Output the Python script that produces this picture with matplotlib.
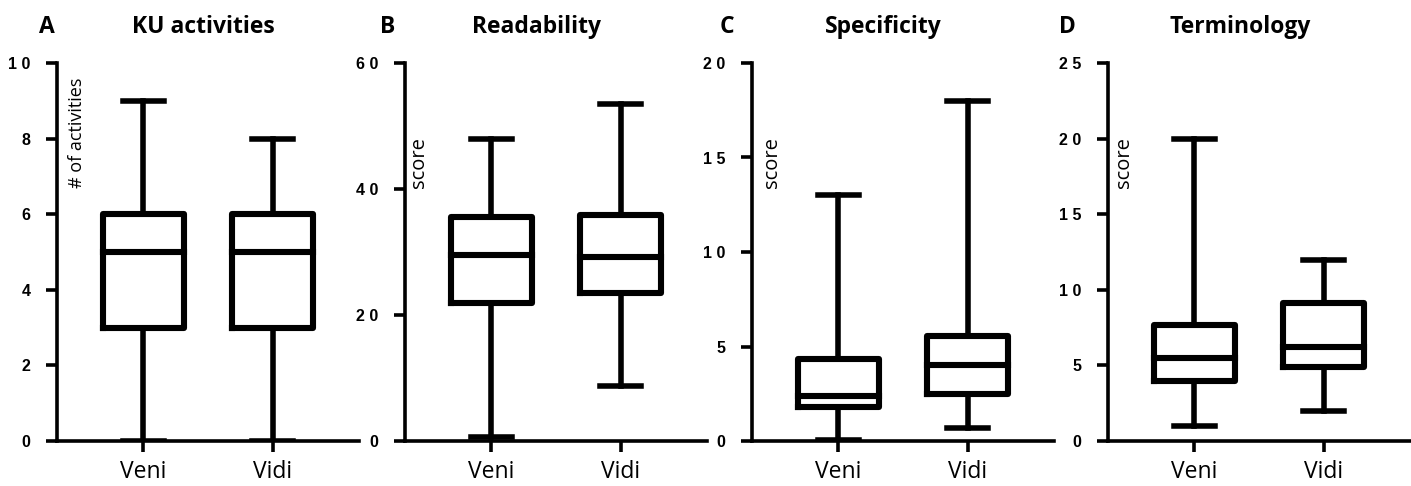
import matplotlib.pyplot as plt

# data (box plot summaries: whisker low, q1, median, q3, whisker high)
groups = ["Veni", "Vidi"]
panel_letters = ["A", "B", "C", "D"]
panel_titles = ["KU activities", "Readability", "Specificity", "Terminology"]
ylabels = ["# of activities", "score", "score", "score"]

ku_low = [0, 0]
ku_q1 = [3, 3]
ku_med = [5, 5]
ku_q3 = [6, 6]
ku_high = [9, 8]

read_low = [0.7, 8.7]
read_q1 = [21.9, 23.5]
read_med = [29.5, 29.2]
read_q3 = [35.5, 35.9]
read_high = [48, 53.5]

spec_low = [0.05, 0.7]
spec_q1 = [1.8, 2.5]
spec_med = [2.4, 4.0]
spec_q3 = [4.35, 5.55]
spec_high = [13, 18]

term_low = [1, 2]
term_q1 = [4.0, 4.9]
term_med = [5.5, 6.25]
term_q3 = [7.7, 9.1]
term_high = [20, 12]

yticks = [
    [0, 2, 4, 6, 8, 10],
    [0, 20, 40, 60],
    [0, 5, 10, 15, 20],
    [0, 5, 10, 15, 20, 25],
]
ymax = [10, 60, 20, 25]

summaries = [
    (ku_low, ku_q1, ku_med, ku_q3, ku_high),
    (read_low, read_q1, read_med, read_q3, read_high),
    (spec_low, spec_q1, spec_med, spec_q3, spec_high),
    (term_low, term_q1, term_med, term_q3, term_high),
]

W, H = 1411, 486
fig = plt.figure(figsize=(W / 100, H / 100), dpi=100)

lefts = [57, 405, 752, 1108]
ax_w, ax_top, ax_bot = 302, 63, 441
title_x = [203, 537, 883, 1240]
letter_x = [47, 388, 727, 1067]
ylab_dx = [20, 14, 20, 16]
ylab_size = [13.0, 14.5, 14.5, 14.5]

tick_font = dict(family="Liberation Sans", weight="bold", size=11.5)

for i, (lo, q1, med, q3, hi) in enumerate(summaries):
    ax = fig.add_axes(
        [lefts[i] / W, 1 - ax_bot / H, ax_w / W, (ax_bot - ax_top) / H]
    )
    stats = [
        dict(whislo=lo[k], q1=q1[k], med=med[k], q3=q3[k], whishi=hi[k], fliers=[])
        for k in range(len(groups))
    ]
    ax.bxp(
        stats,
        positions=[1, 2],
        widths=0.63,
        capwidths=0.32,
        showfliers=False,
        boxprops=dict(color="black", linewidth=4.4),
        medianprops=dict(color="black", linewidth=4.4, solid_capstyle="projecting"),
        whiskerprops=dict(color="black", linewidth=4.0),
        capprops=dict(color="black", linewidth=4.0),
    )
    ax.set_xlim(0.33, 2.67)
    ax.set_ylim(0, ymax[i])
    ax.set_yticks(yticks[i])
    ax.set_yticklabels([" ".join(str(t)) for t in yticks[i]], fontdict=tick_font)
    ax.set_xticks([1, 2])
    ax.set_xticklabels(groups, family="Open Sans", fontsize=16.5)
    for side in ["top", "right"]:
        ax.spines[side].set_visible(False)
    for side in ["left", "bottom"]:
        ax.spines[side].set_linewidth(2.6)
    ax.tick_params(axis="both", width=2.6, length=8, direction="out")
    ax.tick_params(axis="y", pad=11)
    ax.tick_params(axis="x", pad=6)
    ax.text(
        ylab_dx[i] / ax_w,
        (ax_bot - 188) / (ax_bot - ax_top),
        ylabels[i],
        transform=ax.transAxes,
        rotation=90,
        ha="center",
        va="bottom",
        family="Open Sans",
        fontsize=ylab_size[i],
    )
    fig.text(title_x[i] / W, 1 - 27 / H, panel_titles[i], ha="center", va="center",
             family="Open Sans", weight="bold", fontsize=16.5)
    fig.text(letter_x[i] / W, 1 - 27 / H, panel_letters[i], ha="center", va="center",
             family="Open Sans", weight="bold", fontsize=16.5)

fig.savefig("out.png", dpi=100)
